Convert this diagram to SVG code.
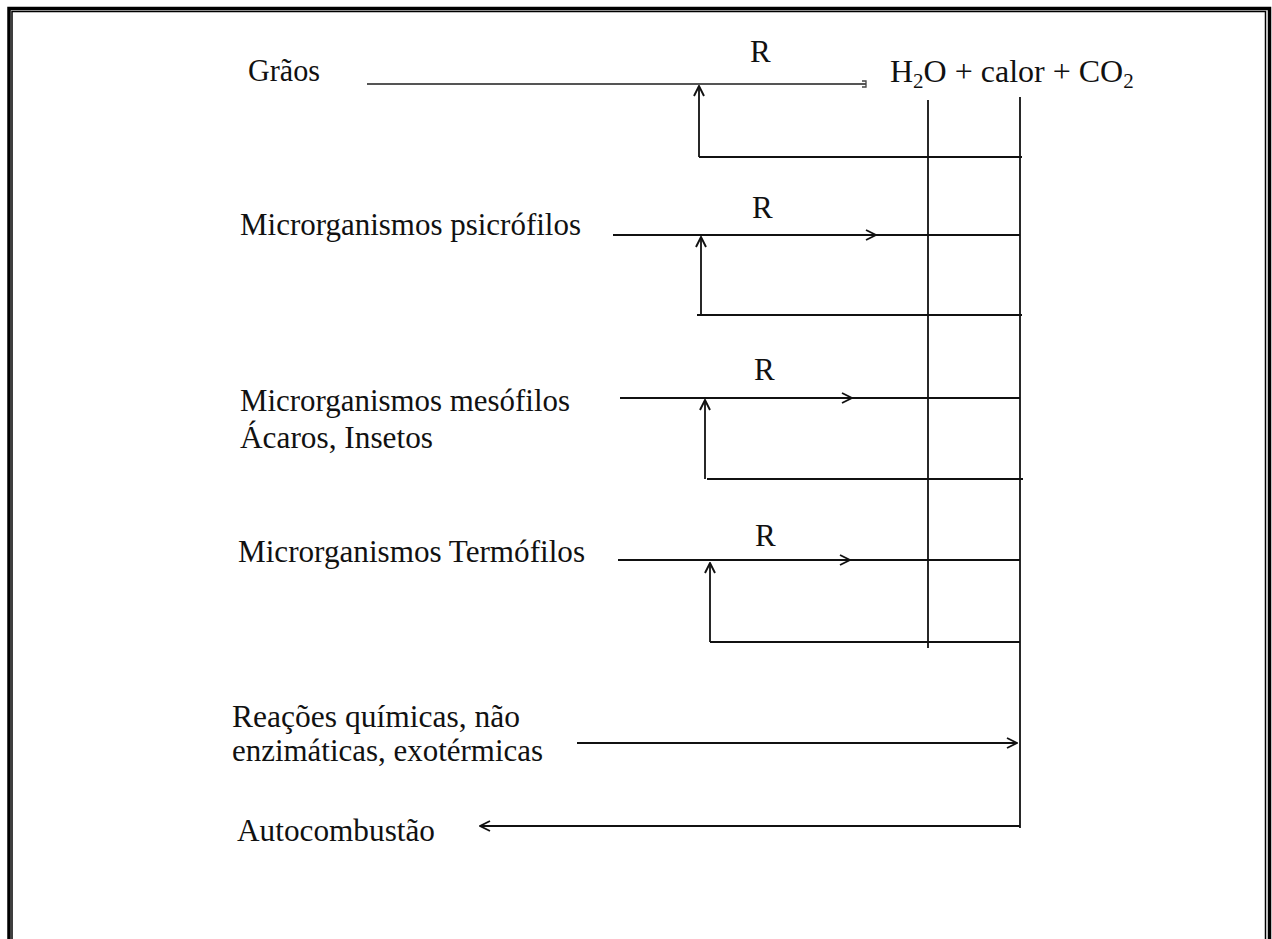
<svg xmlns="http://www.w3.org/2000/svg" width="1272" height="939" viewBox="0 0 1272 939">
<defs>
<marker id="arr" viewBox="0 0 12 12" refX="11" refY="6" markerWidth="12" markerHeight="12" markerUnits="userSpaceOnUse" orient="auto">
<path d="M1,1 L11,6 L1,11" fill="none" stroke="#111" stroke-width="1.9"/>
</marker>
<marker id="arrs" viewBox="0 0 8 8" refX="7" refY="4" markerWidth="8" markerHeight="8" markerUnits="userSpaceOnUse" orient="auto">
<path d="M3,1 L7,1 L7,7 L3,7" fill="none" stroke="#444" stroke-width="1.3"/>
</marker>
</defs>
<style>
text{font-family:"Liberation Serif","Times New Roman",serif;font-size:31px;fill:#111}
.ln{stroke:#111;stroke-width:1.8;fill:none}
.g{stroke:#555}
</style>
<rect width="1272" height="939" fill="#fff"/>
<g id="border" fill="none" stroke="#000">
<path d="M9,939 V8.5 H1269.5 V939" stroke-width="3.5"/>
<path d="M12,939 V11.5 H1265.5 V939" stroke-width="1.5"/>
</g>
<g id="connectors">
<line class="ln g" x1="367" y1="84" x2="866" y2="84" marker-end="url(#arrs)"/>
<line class="ln" x1="699" y1="157" x2="699" y2="86" marker-end="url(#arr)"/>
<line class="ln" x1="699" y1="157" x2="1022" y2="157"/>
<line class="ln" x1="928" y1="100" x2="928" y2="648"/>
<line class="ln" x1="1020" y1="97" x2="1020" y2="828"/>

<line class="ln" x1="613" y1="235" x2="876" y2="235" marker-end="url(#arr)"/>
<line class="ln" x1="876" y1="235" x2="1020" y2="235"/>
<line class="ln" x1="701" y1="315" x2="701" y2="237" marker-end="url(#arr)"/>
<line class="ln" x1="697" y1="315" x2="1022" y2="315"/>

<line class="ln" x1="620" y1="398" x2="852" y2="398" marker-end="url(#arr)"/>
<line class="ln" x1="852" y1="398" x2="1020" y2="398"/>
<line class="ln" x1="705" y1="479" x2="705" y2="400" marker-end="url(#arr)"/>
<line class="ln" x1="707" y1="479" x2="1023" y2="479"/>

<line class="ln" x1="618" y1="560" x2="850" y2="560" marker-end="url(#arr)"/>
<line class="ln" x1="850" y1="560" x2="1020" y2="560"/>
<line class="ln" x1="710" y1="642" x2="710" y2="563" marker-end="url(#arr)"/>
<line class="ln" x1="710" y1="642" x2="1020" y2="642"/>

<line class="ln" x1="577" y1="743" x2="1017" y2="743" marker-end="url(#arr)"/>
<line class="ln" x1="1020" y1="826" x2="480" y2="826" marker-end="url(#arr)"/>
</g>
<g id="n-graos"><text x="248" y="81" textLength="72" lengthAdjust="spacingAndGlyphs">Grãos</text></g>
<g id="n-produtos"><text x="890" y="82" style="font-size:32px">H<tspan font-size="21" dy="6">2</tspan><tspan dy="-6">O + calor + CO</tspan><tspan font-size="21" dy="6">2</tspan></text></g>
<g id="n-r1"><text x="750" y="62">R</text></g>
<g id="n-psicro"><text x="240" y="235" textLength="341" lengthAdjust="spacingAndGlyphs">Microrganismos psicrófilos</text></g>
<g id="n-r2"><text x="752" y="218">R</text></g>
<g id="n-meso"><text x="240" y="411" textLength="330" lengthAdjust="spacingAndGlyphs">Microrganismos mesófilos</text><text x="240" y="448" textLength="193" lengthAdjust="spacingAndGlyphs">Ácaros, Insetos</text></g>
<g id="n-r3"><text x="754" y="380">R</text></g>
<g id="n-termo"><text x="238" y="562" textLength="347" lengthAdjust="spacingAndGlyphs">Microrganismos Termófilos</text></g>
<g id="n-r4"><text x="755" y="546">R</text></g>
<g id="n-reacoes"><text x="232" y="727" textLength="288" lengthAdjust="spacingAndGlyphs">Reações químicas, não</text><text x="232" y="761" textLength="311" lengthAdjust="spacingAndGlyphs">enzimáticas, exotérmicas</text></g>
<g id="n-auto"><text x="237" y="841" textLength="198" lengthAdjust="spacingAndGlyphs">Autocombustão</text></g>
</svg>
